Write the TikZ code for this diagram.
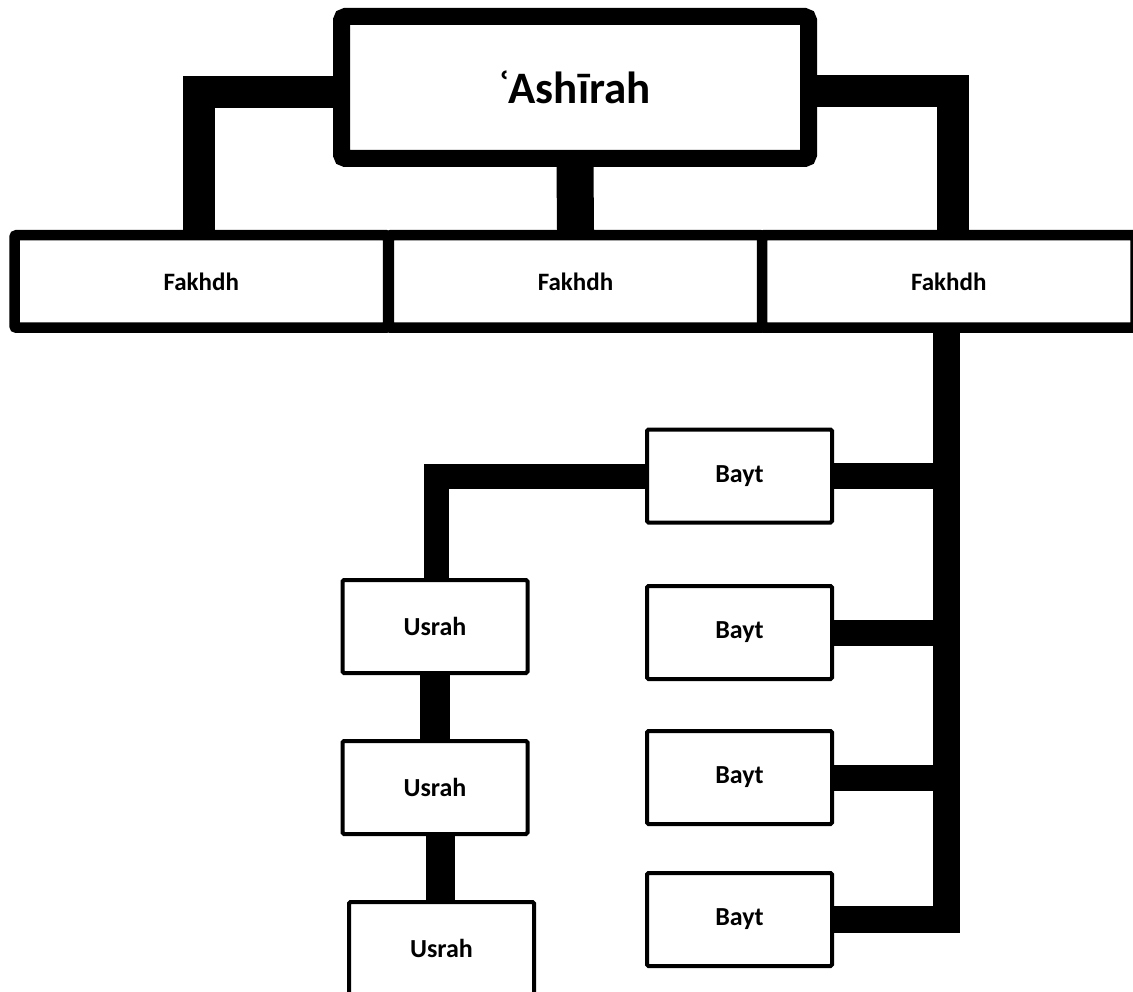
\documentclass[tikz,border=0pt]{standalone}
\usepackage{fontspec}
\setmainfont{Carlito}
\usetikzlibrary{calc}
\begin{document}
\begin{tikzpicture}[x=1pt,y=-1pt,
  topbox/.style={draw=black,fill=white,line width=17pt,rounded corners=4pt,minimum width=467pt,minimum height=142pt,inner sep=0pt,font=\fontsize{45}{52}\selectfont\bfseries},
  fbox/.style={draw=black,fill=white,line width=10.5pt,rounded corners=2pt,minimum width=373.5pt,minimum height=92.5pt,inner sep=0pt,font=\fontsize{25}{30}\selectfont\bfseries},
  smallbox/.style={draw=black,fill=white,line width=4pt,rounded corners=1.5pt,minimum width=185pt,minimum height=93pt,inner sep=0pt,font=\fontsize{26}{31}\selectfont\bfseries},
  bar/.style={draw=black,line width=#1,line join=miter,line cap=butt}
]
\useasboundingbox (0,0) rectangle (1133,992);

% nodes
\node[topbox] (ash) at (575,87.5) {ʿ\kern-1pt Ashīrah};
\node[fbox] (f1) at (201.25,281.5) {Fakhdh};
\node[fbox] (f2) at (575.5,281.5) {Fakhdh};
\node[fbox] (f3) at (948.75,281.5) {Fakhdh};

\node[smallbox] (b1) at (739.5,476) {Bayt};
\node[smallbox] (b2) at (739.5,632.5) {Bayt};
\node[smallbox] (b3) at (739.5,777.5) {Bayt};
\node[smallbox] (b4) at (739.5,919.5) {Bayt};

\node[smallbox] (u1) at (435,626.5) {Usrah};
\node[smallbox] (u2) at (435,787.5) {Usrah};
\node[smallbox] (u3) at (441.5,948.5) {Usrah};

\coordinate (trunk) at (946,0);

% connectors from the top box
\draw[bar=32pt] ([yshift=-4.5pt]ash.west) -| ([xshift=-2.75pt]f1.north);
\draw[bar=32pt] ([yshift=-4pt]ash.east) -| ([xshift=4.25pt]f3.north);
\draw[bar=37pt] (ash.south) -- (f2.north);

% trunk down the right
\draw[bar=27pt] (f3.south -| trunk) |- (b4.east);
\draw[bar=26pt] (b1.east) -- (b1.east -| trunk);
\draw[bar=26pt] (b2.east) -- (b2.east -| trunk);
\draw[bar=26pt] (b3.east) -- (b3.east -| trunk);

% bayt to usrah chain
\draw[bar=25pt] (b1.west) -| ([xshift=1.5pt]u1.north);
\draw[bar=30pt] (u1.south) -- (u2.north);
\draw[bar=29pt] (u2.south -| {440,0}) -- (u3.north -| {440,0});
\end{tikzpicture}
\end{document}
